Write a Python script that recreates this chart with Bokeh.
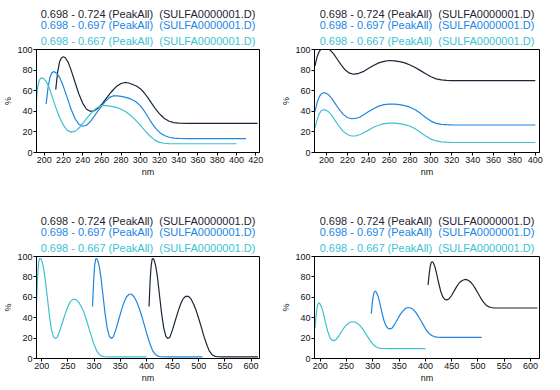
from bokeh.plotting import figure
from bokeh.models import Title, FixedTicker
from bokeh.layouts import gridplot
from bokeh.embed import file_html
from bokeh.resources import INLINE

# ---------------- data ----------------
series_labels = [
    "0.698 - 0.724 (PeakAll)\u00a0 (SULFA0000001.D)",
    "0.698 - 0.697 (PeakAll)\u00a0 (SULFA0000001.D)",
    "0.698 - 0.667 (PeakAll)\u00a0 (SULFA0000001.D)",
]
y_ticks = [0, 20, 40, 60, 80, 100]
x_ticks_top = [200, 220, 240, 260, 280, 300, 320, 340, 360, 380, 400, 420]
x_ticks_bottom = [200, 250, 300, 350, 400, 450, 500, 550, 600]

# panel 1 (overlay, raw %)
p1_black_x = [212, 214, 216, 218, 220, 222, 225, 228, 232, 236, 240, 244, 248, 252, 256, 260, 265, 270, 275, 280, 284, 288, 292, 296, 300, 304, 308, 312, 316, 320, 325, 330, 335, 340, 350, 422]
p1_black_y = [61, 78, 88, 92, 93, 92, 87.5, 80, 68.5, 57, 48, 42, 40, 40.5, 43, 47, 53, 59, 64, 67, 68, 67.5, 66, 64.5, 62, 58, 53, 47.5, 42, 37.5, 33, 30.3, 29, 28.5, 28.2, 28.2]
p1_blue_x = [202, 204, 206, 208, 210, 213, 216, 220, 224, 228, 232, 236, 240, 244, 248, 252, 256, 260, 264, 268, 272, 276, 280, 285, 290, 295, 300, 304, 308, 312, 316, 320, 325, 330, 335, 340, 350, 410]
p1_blue_y = [47, 63, 73, 77.5, 78.5, 77, 73, 64, 53, 42, 33, 27.5, 25.5, 26.5, 30, 35, 40.5, 45.5, 50, 53.5, 55, 55, 54.5, 53.5, 52, 49.5, 45.5, 40.5, 34.5, 28.5, 23.5, 19.5, 16.5, 14.8, 14, 13.7, 13.5, 13.5]
p1_cyan_x = [191, 193, 195, 197, 199, 202, 205, 208, 212, 216, 220, 224, 228, 232, 236, 240, 245, 250, 255, 260, 265, 270, 275, 280, 285, 290, 295, 300, 305, 310, 315, 320, 325, 330, 340, 400]
p1_cyan_y = [40, 62, 70.5, 72.5, 72, 69, 63.5, 55, 44, 34, 26.5, 21.5, 19.8, 20.5, 23.5, 28, 34, 39.5, 43.5, 45.5, 45.5, 44.8, 43.8, 42, 39.5, 36, 31.5, 26.5, 21, 16, 12, 9.8, 9, 8.7, 8.5, 8.5]

# panel 2 (offset overlay)
p2_black_x = [189, 191, 193, 195, 198, 201, 204, 207, 210, 214, 218, 222, 226, 230, 235, 240, 245, 250, 255, 260, 265, 270, 275, 280, 285, 290, 295, 300, 305, 310, 315, 320, 330, 400]
p2_black_y = [84, 93, 98, 100.5, 101.5, 101, 99, 95.5, 91, 85, 80, 77, 76, 76.5, 78.5, 81.5, 84.5, 87, 88.5, 89.3, 89, 88.3, 87, 85, 82.5, 79.5, 76.5, 73.5, 71.5, 70.5, 70, 69.8, 69.7, 69.7]
p2_blue_x = [189, 191, 193, 195, 197, 199, 202, 205, 208, 212, 216, 220, 224, 228, 232, 236, 240, 245, 250, 255, 260, 265, 270, 275, 280, 285, 290, 295, 300, 305, 310, 315, 320, 330, 400]
p2_blue_y = [40, 48.5, 54, 57, 58, 57.8, 56, 52.5, 48, 42, 37, 34, 32.8, 33, 34.5, 37, 39.5, 42.5, 45, 46.5, 47, 47, 46.5, 45.5, 44, 41.5, 38, 34, 30.5, 28.3, 27.3, 27, 26.8, 26.7, 26.7]
p2_cyan_x = [189, 191, 193, 195, 197, 199, 202, 205, 208, 212, 216, 220, 224, 228, 232, 236, 240, 245, 250, 255, 260, 265, 270, 275, 280, 285, 290, 295, 300, 305, 310, 315, 320, 330, 400]
p2_cyan_y = [24, 32, 37.5, 40.5, 41.5, 41.3, 39.5, 36, 31.5, 25.5, 20.5, 17.5, 16, 16, 17.5, 19.5, 21.5, 24.5, 26.5, 28, 28.5, 28.5, 28, 27, 25.5, 23, 19.5, 16, 13, 11.2, 10.3, 10, 9.8, 9.7, 9.7]

# panel 3 (normalized, shifted in x)
p3_cyan_x = [190, 192, 194, 196, 198, 200, 203, 206, 210, 214, 218, 222, 226, 230, 235, 240, 245, 250, 255, 260, 265, 270, 275, 280, 285, 290, 295, 300, 305, 310, 315, 320, 330, 400]
p3_cyan_y = [55, 80, 94, 98, 98, 96, 90, 80, 63, 45, 30, 21.5, 19.5, 21, 28, 36, 44, 51, 56, 58, 58, 55.5, 51.5, 46, 38.5, 30, 21.5, 13.5, 7.5, 4, 2.3, 1.7, 1.5, 1.5]
p3_blue_x = [297, 299, 301, 303, 305, 307, 310, 313, 317, 321, 325, 329, 333, 337, 342, 347, 352, 357, 362, 367, 372, 377, 382, 387, 392, 397, 402, 407, 412, 417, 422, 427, 437, 507]
p3_blue_y = [51, 75, 91, 97.5, 98, 96, 90, 80, 62, 44, 30, 22, 19.5, 21.5, 29, 38, 47, 55, 60.5, 63, 63, 60, 55, 48, 40, 31, 22, 14, 7.5, 4, 2.3, 1.7, 1.5, 1.5]
p3_black_x = [405, 407, 409, 411, 413, 415, 418, 421, 425, 429, 433, 437, 441, 445, 450, 455, 460, 465, 470, 475, 480, 485, 490, 495, 500, 505, 510, 515, 520, 525, 530, 535, 545, 613]
p3_black_y = [51, 76, 91, 97.5, 98, 96, 90, 80, 62, 44, 30, 22, 19.5, 21, 28.5, 37, 45.5, 53, 58.5, 61, 61, 58.5, 53.5, 47, 39, 30.5, 21.5, 14, 7.5, 4, 2.3, 1.7, 1.5, 1.5]

# panel 4 (shifted in x and y)
p4_cyan_x = [190, 192, 194, 196, 198, 200, 203, 206, 210, 214, 218, 222, 226, 230, 235, 240, 245, 250, 255, 260, 265, 270, 275, 280, 285, 290, 295, 300, 305, 310, 315, 320, 330, 400]
p4_cyan_y = [30, 42, 50, 54, 54.5, 53, 49.5, 44, 35, 27, 21, 18, 17.5, 18.5, 22, 26, 30, 33, 35, 36, 35.8, 34.5, 32.5, 29.5, 25.5, 21.5, 17.5, 14, 11.8, 10.5, 10, 9.8, 9.7, 9.7]
p4_blue_x = [297, 299, 301, 303, 305, 307, 310, 313, 317, 321, 325, 329, 333, 337, 342, 347, 352, 357, 362, 367, 372, 377, 382, 387, 392, 397, 402, 407, 412, 417, 422, 430, 507]
p4_blue_y = [44, 55, 62, 65.5, 66, 64.5, 61, 55, 45.5, 37.5, 32, 29.5, 29, 30, 34, 38.5, 43, 46.5, 49, 50, 49.5, 48, 45, 41, 36.5, 32, 27.5, 24.5, 22.5, 21.5, 21, 20.8, 20.8]
p4_black_x = [405, 407, 409, 411, 413, 415, 418, 421, 425, 429, 433, 437, 441, 445, 450, 455, 460, 465, 470, 475, 480, 485, 490, 495, 500, 505, 510, 515, 520, 525, 530, 540, 613]
p4_black_y = [72, 82, 90, 94, 95, 94, 90, 84, 74.5, 66, 60.5, 58, 57.5, 58.5, 62, 66.5, 71, 74.5, 76.5, 77.5, 77, 75.5, 72.5, 68.5, 64, 59.5, 55.5, 52.5, 50.8, 50, 49.7, 49.5, 49.5]

line_colors = ["#1b2537", "#1f85e0", "#3fc0d2"]
text_colors = ["#1e2433", "#1a86e6", "#3cc2d4"]
FONT = "Liberation Sans"


def make_panel(black, blue, cyan, x_range, x_ticks, frame_w, frame_h,
               border_left, border_right, border_top, border_bottom):
    p = figure(frame_width=frame_w, frame_height=frame_h,
               x_range=x_range, y_range=(0, 100),
               output_backend="svg", toolbar_location=None, tools="",
               min_border_left=border_left, min_border_right=border_right,
               min_border_top=border_top, min_border_bottom=border_bottom,
               background_fill_color="white", border_fill_color="white")
    p.grid.visible = False
    p.outline_line_color = "black"
    p.outline_line_width = 1
    p.outline_line_alpha = 1
    for ax in (p.xaxis[0], p.yaxis[0]):
        ax.axis_line_color = "black"
        ax.major_tick_line_color = "black"
        ax.minor_tick_line_color = None
        ax.major_tick_in = 0
        ax.major_tick_out = 3
        ax.major_label_standoff = 1
        ax.axis_label_standoff = 1
        ax.major_label_text_font = FONT
        ax.major_label_text_font_size = "9px"
        ax.major_label_text_color = "#111111"
        ax.axis_label_text_font = FONT
        ax.axis_label_text_font_size = "9px"
        ax.axis_label_text_font_style = "normal"
        ax.axis_label_text_color = "#111111"
    p.xaxis[0].ticker = FixedTicker(ticks=x_ticks)
    p.yaxis[0].ticker = FixedTicker(ticks=y_ticks)
    p.xaxis[0].axis_label = "nm"
    p.yaxis[0].axis_label = "%"

    for (xs, ys), col in zip([black, blue, cyan], line_colors):
        p.line(xs, ys, line_color=col, line_width=1.2)

    # three coloured header lines, nearest to the frame first
    standoffs = [-3.5, -3, 5.5]
    for i in (2, 1, 0):
        p.add_layout(Title(text=series_labels[i], align="center",
                           text_color=text_colors[i], text_font=FONT,
                           text_font_size="11px", text_font_style="normal",
                           standoff=standoffs[i], offset=-2), "above")
    return p


p1 = make_panel((p1_black_x, p1_black_y), (p1_blue_x, p1_blue_y), (p1_cyan_x, p1_cyan_y),
                (192, 424), x_ticks_top, 223, 103, 29, 19, 49, 55)
p2 = make_panel((p2_black_x, p2_black_y), (p2_blue_x, p2_blue_y), (p2_cyan_x, p2_cyan_y),
                (188.5, 404), x_ticks_top[:-1], 225, 103, 32, 16, 49, 55)
p3 = make_panel((p3_black_x, p3_black_y), (p3_blue_x, p3_blue_y), (p3_cyan_x, p3_cyan_y),
                (190, 616), x_ticks_bottom, 223, 102, 29, 19, 49, 20)
p4 = make_panel((p4_black_x, p4_black_y), (p4_blue_x, p4_blue_y), (p4_cyan_x, p4_cyan_y),
                (189, 617), x_ticks_bottom, 225, 102, 32, 16, 49, 20)

grid = gridplot([[p1, p2], [p3, p4]], toolbar_location=None)

open("out.html", "w").write(file_html(grid, INLINE))
